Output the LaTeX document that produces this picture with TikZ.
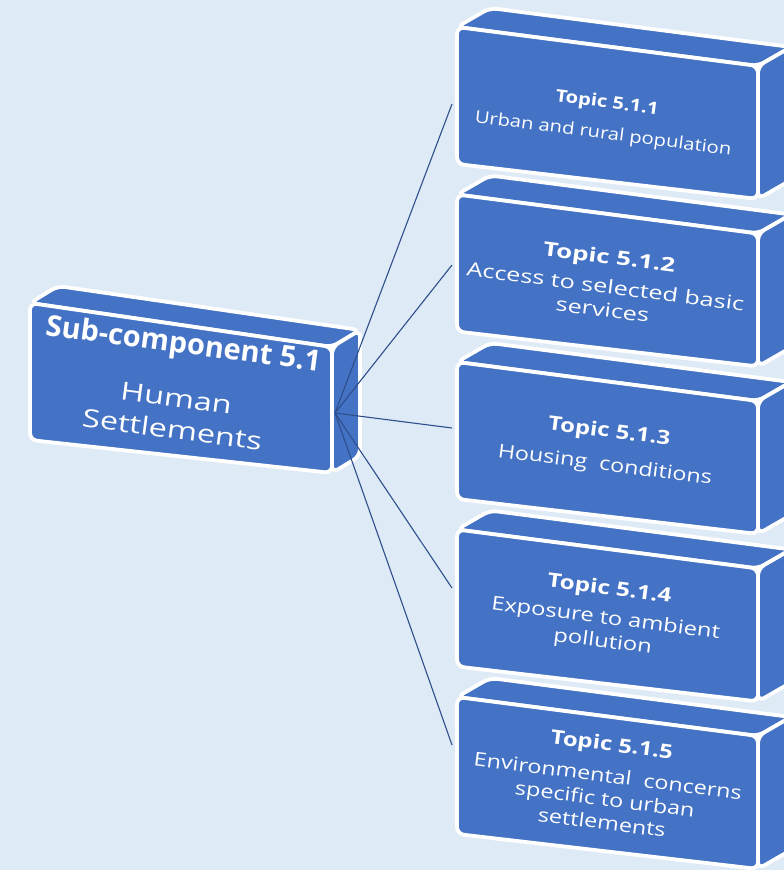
\documentclass[tikz,border=0pt]{standalone}
\usepackage{fontspec}
\setmainfont{Open Sans}
\definecolor{bg}{HTML}{DEEAF6}
\definecolor{boxblue}{HTML}{4472C4}
\definecolor{linkcol}{HTML}{2F4E8C}
\tikzset{
  face/.style={fill=boxblue, draw=white, line width=3.8pt, rounded corners=7pt, line join=round},
  topictext/.style={text=white, align=center, rotate=-7.3, inner sep=0pt,
    font=\fontsize{19}{23.5}\selectfont},
  subtext/.style={text=white, align=center, rotate=-7.5, inner sep=0pt,
    font=\fontsize{25}{32}\selectfont},
  link/.style={draw=linkcol, line width=1.1pt}
}
\newcommand\ttl[1]{{\fontsize{19.5}{22}\selectfont\bfseries #1}}
\begin{document}
\begin{tikzpicture}[x=1pt,y=-1pt]
\useasboundingbox (0,0) rectangle (784,870);
\clip (0,0) rectangle (784,870);
\fill[bg] (0,0) rectangle (784,870);
% topic boxes
\foreach \y in {27,194.5,362,529.5,697}{
  \path[face] (457,\y) -- (490,\y-19) -- (791,\y+20) -- (758,\y+39) -- cycle;
  \path[face] (758,\y+39) -- (791,\y+20) -- (791,\y+153) -- (758,\y+172) -- cycle;
  \path[face] (457,\y) -- (758,\y+39) -- (758,\y+172) -- (457,\y+137) -- cycle;
}
% sub-component box
\path[face] (30,303) -- (58,286) -- (360,330) -- (332,347) -- cycle;
\path[face] (332,347) -- (360,330) -- (360,456) -- (332,473) -- cycle;
\path[face] (30,303) -- (332,347) -- (332,473) -- (30,440) -- cycle;
% texts
\node[subtext] (sub) at (178,385) {{\fontsize{29}{34}\selectfont\bfseries Sub-component 5.1}\\[22pt]\scalebox{1.3}[1]{Human}\\\scalebox{1.3}[1]{Settlements}};
\node[topictext, xscale=1.19, font=\fontsize{17}{22}\selectfont] (t1) at (605,119) {{\fontsize{17}{20}\selectfont\bfseries Topic 5.1.1}\\[9pt]Urban and rural population};
\node[topictext, xscale=1.33] (t2) at (606,283) {\ttl{Topic 5.1.2}\\[6pt]Access to selected basic\\services};
\node[topictext, xscale=1.23] (t3) at (607,449) {\ttl{Topic 5.1.3}\\[10pt]Housing\ \ conditions};
\node[topictext, xscale=1.25] (t4) at (606,616) {\ttl{Topic 5.1.4}\\[6pt]Exposure to ambient\\pollution};
\node[topictext, xscale=1.23] (t5) at (607,783) {\ttl{Topic 5.1.5}\\[8pt]Environmental\ \ concerns\\specific to urban\\settlements};
% connectors
\coordinate (hub) at (335,413);
\coordinate (e1) at (452,104);
\coordinate (e2) at (452,265);
\coordinate (e3) at (452,428);
\coordinate (e4) at (452,588);
\coordinate (e5) at (452,745);
\foreach \e in {e1,e2,e3,e4,e5}{
  \path[link] (hub) -- (\e);
}
\end{tikzpicture}
\end{document}
